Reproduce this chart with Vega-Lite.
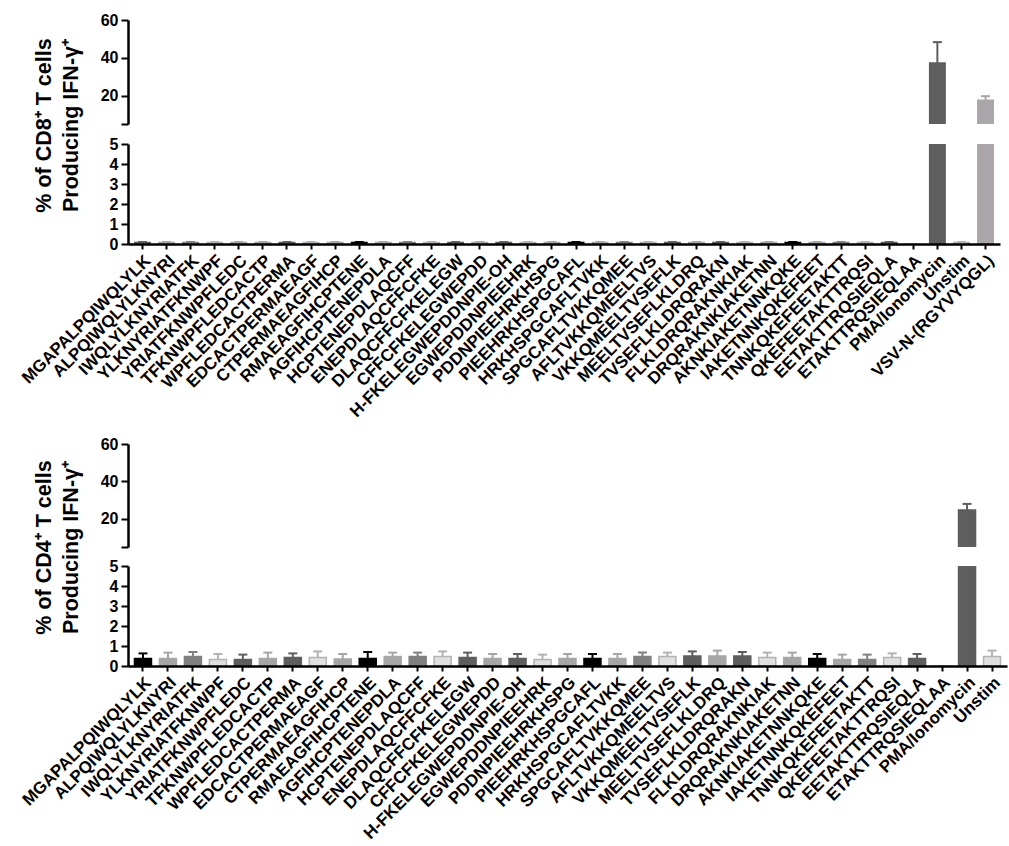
{
  "$schema": "https://vega.github.io/schema/vega-lite/v6.json",
  "background": "white",
  "padding": {"top": 12, "left": 18, "right": 4, "bottom": 4},
  "config": {
    "view": {"stroke": null},
    "font": "Liberation Sans",
    "axis": {
      "grid": false,
      "domainColor": "#000000",
      "domainWidth": 2.5,
      "tickColor": "#000000",
      "tickWidth": 2,
      "labelFont": "Liberation Sans",
      "labelFontWeight": "bold",
      "labelColor": "#000000",
      "labelFontSize": 16,
      "titleFont": "Liberation Sans",
      "titleFontWeight": "bold",
      "titleColor": "#000000"
    }
  },
  "datasets": {
    "cd8": [
      {"peptide": "MGAPALPQIWQLYLK", "value": 0.08, "upper": 0.1, "group": "d"},
      {"peptide": "ALPQIWQLYLKNYRI", "value": 0.08, "upper": 0.1, "group": "l"},
      {"peptide": "IWQLYLKNYRIATFK", "value": 0.08, "upper": 0.1, "group": "m"},
      {"peptide": "YLKNYRIATFKNWPF", "value": 0.08, "upper": 0.1, "group": "h"},
      {"peptide": "YRIATFKNWPFLEDC", "value": 0.08, "upper": 0.1, "group": "l"},
      {"peptide": "TFKNWPFLEDCACTP", "value": 0.08, "upper": 0.1, "group": "l"},
      {"peptide": "WPFLEDCACTPERMA", "value": 0.08, "upper": 0.1, "group": "d"},
      {"peptide": "EDCACTPERMAEAGF", "value": 0.08, "upper": 0.1, "group": "h"},
      {"peptide": "CTPERMAEAGFIHCP", "value": 0.08, "upper": 0.1, "group": "l"},
      {"peptide": "RMAEAGFIHCPTENE", "value": 0.08, "upper": 0.1, "group": "k"},
      {"peptide": "AGFIHCPTENEPDLA", "value": 0.08, "upper": 0.1, "group": "l"},
      {"peptide": "HCPTENEPDLAQCFF", "value": 0.08, "upper": 0.1, "group": "m"},
      {"peptide": "ENEPDLAQCFFCFKE", "value": 0.08, "upper": 0.1, "group": "h"},
      {"peptide": "DLAQCFFCFKELEGW", "value": 0.08, "upper": 0.1, "group": "d"},
      {"peptide": "CFFCFKELEGWEPDD", "value": 0.08, "upper": 0.1, "group": "l"},
      {"peptide": "H-FKELEGWEPDDNPIE-OH", "value": 0.08, "upper": 0.1, "group": "d"},
      {"peptide": "EGWEPDDNPIEEHRK", "value": 0.08, "upper": 0.1, "group": "h"},
      {"peptide": "PDDNPIEEHRKHSPG", "value": 0.08, "upper": 0.1, "group": "l"},
      {"peptide": "PIEEHRKHSPGCAFL", "value": 0.08, "upper": 0.1, "group": "k"},
      {"peptide": "HRKHSPGCAFLTVKK", "value": 0.08, "upper": 0.1, "group": "l"},
      {"peptide": "SPGCAFLTVKKQMEE", "value": 0.08, "upper": 0.1, "group": "m"},
      {"peptide": "AFLTVKKQMEELTVS", "value": 0.08, "upper": 0.1, "group": "h"},
      {"peptide": "VKKQMEELTVSEFLK", "value": 0.08, "upper": 0.1, "group": "d"},
      {"peptide": "MEELTVSEFLKLDRQ", "value": 0.08, "upper": 0.1, "group": "l"},
      {"peptide": "TVSEFLKLDRQRAKN", "value": 0.08, "upper": 0.1, "group": "d"},
      {"peptide": "FLKLDRQRAKNKIAK", "value": 0.08, "upper": 0.1, "group": "h"},
      {"peptide": "DRQRAKNKIAKETNN", "value": 0.08, "upper": 0.1, "group": "l"},
      {"peptide": "AKNKIAKETNNKQKE", "value": 0.08, "upper": 0.1, "group": "k"},
      {"peptide": "IAKETNNKQKEFEET", "value": 0.08, "upper": 0.1, "group": "l"},
      {"peptide": "TNNKQKEFEETAKTT", "value": 0.08, "upper": 0.1, "group": "m"},
      {"peptide": "QKEFEETAKTTRQSI", "value": 0.08, "upper": 0.1, "group": "h"},
      {"peptide": "EETAKTTRQSIEQLA", "value": 0.08, "upper": 0.1, "group": "d"},
      {"peptide": "ETAKTTRQSIEQLAA", "value": 0, "upper": 0, "group": "h"},
      {"peptide": "PMA/Ionomycin", "value": 37.2, "upper": 48.3, "group": "d"},
      {"peptide": "Unstim", "value": 0.08, "upper": 0.1, "group": "h"},
      {"peptide": "VSV-N-(RGYVYQGL)", "value": 17.6, "upper": 19.7, "group": "v"}
    ],
    "cd4": [
      {"peptide": "MGAPALPQIWQLYLK", "value": 0.38, "upper": 0.63, "group": "k"},
      {"peptide": "ALPQIWQLYLKNYRI", "value": 0.38, "upper": 0.67, "group": "l"},
      {"peptide": "IWQLYLKNYRIATFK", "value": 0.47, "upper": 0.7, "group": "m"},
      {"peptide": "YLKNYRIATFKNWPF", "value": 0.33, "upper": 0.6, "group": "h"},
      {"peptide": "YRIATFKNWPFLEDC", "value": 0.33, "upper": 0.57, "group": "d"},
      {"peptide": "TFKNWPFLEDCACTP", "value": 0.38, "upper": 0.67, "group": "l"},
      {"peptide": "WPFLEDCACTPERMA", "value": 0.42, "upper": 0.63, "group": "d"},
      {"peptide": "EDCACTPERMAEAGF", "value": 0.42, "upper": 0.73, "group": "h"},
      {"peptide": "CTPERMAEAGFIHCP", "value": 0.35, "upper": 0.6, "group": "l"},
      {"peptide": "RMAEAGFIHCPTENE", "value": 0.38, "upper": 0.7, "group": "k"},
      {"peptide": "AGFIHCPTENEPDLA", "value": 0.47, "upper": 0.67, "group": "l"},
      {"peptide": "HCPTENEPDLAQCFF", "value": 0.47, "upper": 0.67, "group": "m"},
      {"peptide": "ENEPDLAQCFFCFKE", "value": 0.47, "upper": 0.73, "group": "h"},
      {"peptide": "DLAQCFFCFKELEGW", "value": 0.42, "upper": 0.67, "group": "d"},
      {"peptide": "CFFCFKELEGWEPDD", "value": 0.38, "upper": 0.6, "group": "l"},
      {"peptide": "H-FKELEGWEPDDNPIE-OH", "value": 0.38, "upper": 0.6, "group": "d"},
      {"peptide": "EGWEPDDNPIEEHRK", "value": 0.33, "upper": 0.57, "group": "h"},
      {"peptide": "PDDNPIEEHRKHSPG", "value": 0.38, "upper": 0.6, "group": "l"},
      {"peptide": "PIEEHRKHSPGCAFL", "value": 0.38, "upper": 0.6, "group": "k"},
      {"peptide": "HRKHSPGCAFLTVKK", "value": 0.38, "upper": 0.6, "group": "l"},
      {"peptide": "SPGCAFLTVKKQMEE", "value": 0.47, "upper": 0.67, "group": "m"},
      {"peptide": "AFLTVKKQMEELTVS", "value": 0.47, "upper": 0.67, "group": "h"},
      {"peptide": "VKKQMEELTVSEFLK", "value": 0.5, "upper": 0.73, "group": "d"},
      {"peptide": "MEELTVSEFLKLDRQ", "value": 0.5, "upper": 0.77, "group": "l"},
      {"peptide": "TVSEFLKLDRQRAKN", "value": 0.5, "upper": 0.7, "group": "d"},
      {"peptide": "FLKLDRQRAKNKIAK", "value": 0.43, "upper": 0.67, "group": "h"},
      {"peptide": "DRQRAKNKIAKETNN", "value": 0.43, "upper": 0.67, "group": "l"},
      {"peptide": "AKNKIAKETNNKQKE", "value": 0.38, "upper": 0.6, "group": "k"},
      {"peptide": "IAKETNNKQKEFEET", "value": 0.33, "upper": 0.57, "group": "l"},
      {"peptide": "TNNKQKEFEETAKTT", "value": 0.33, "upper": 0.57, "group": "m"},
      {"peptide": "QKEFEETAKTTRQSI", "value": 0.43, "upper": 0.63, "group": "h"},
      {"peptide": "EETAKTTRQSIEQLA", "value": 0.38, "upper": 0.6, "group": "d"},
      {"peptide": "ETAKTTRQSIEQLAA", "value": 0, "upper": 0, "group": "h"},
      {"peptide": "PMA/Ionomycin", "value": 24.8, "upper": 28, "group": "d"},
      {"peptide": "Unstim", "value": 0.47, "upper": 0.77, "group": "h"}
    ]
  },
  "vconcat": [
    {
      "data": {"name": "cd8"},
      "bounds": "flush",
      "spacing": 20,
      "resolve": {"scale": {"x": "independent", "y": "independent"}},
      "vconcat": [
        {
          "width": 872,
          "height": 104,
          "resolve": {"axis": {"y": "independent"}},
          "encoding": {
            "x": {"field": "peptide", "type": "nominal", "sort": null, "scale": {"paddingInner": 0.36, "paddingOuter": 0.28}, "axis": null}
          },
          "layer": [
            {
              "mark": {"type": "bar", "clip": true, "strokeWidth": 1.5},
              "encoding": {
                "y": {"field": "value", "type": "quantitative", "scale": {"domain": [5, 60], "nice": false, "zero": false}, "axis": {"values": [5, 20, 40, 60], "labelOverlap": false, "labelExpr": "datum.value == 5 ? '' : datum.label", "title": null, "tickSize": 7, "labelPadding": 3}},
                "fill": {"field": "group", "type": "nominal", "legend": null, "scale": {"domain": ["k", "l", "m", "h", "d", "v"], "range": ["#000000", "#a6a6a6", "#808080", "#e0e0e0", "#5e5e5e", "#aaa6aa"]}},
                "stroke": {"field": "group", "type": "nominal", "legend": null, "scale": {"domain": ["k", "l", "m", "h", "d", "v"], "range": ["#000000", "#a6a6a6", "#808080", "#b2b2b2", "#5e5e5e", "#aaa6aa"]}}
              }
            },
            {
              "transform": [{"filter": "datum.upper > 0"}],
              "mark": {"type": "rule", "clip": true, "strokeWidth": 2},
              "encoding": {
                "y": {"field": "value", "type": "quantitative", "axis": null},
                "y2": {"field": "upper"},
                "color": {"field": "group", "type": "nominal", "legend": null, "scale": {"domain": ["k", "l", "m", "h", "d", "v"], "range": ["#000000", "#a6a6a6", "#808080", "#b2b2b2", "#5e5e5e", "#aaa6aa"]}}
              }
            },
            {
              "transform": [{"filter": "datum.upper > 0"}],
              "mark": {"type": "tick", "clip": true, "thickness": 2, "size": 9, "opacity": 1},
              "encoding": {
                "y": {"field": "upper", "type": "quantitative", "axis": null},
                "color": {"field": "group", "type": "nominal", "legend": null, "scale": {"domain": ["k", "l", "m", "h", "d", "v"], "range": ["#000000", "#a6a6a6", "#808080", "#b2b2b2", "#5e5e5e", "#aaa6aa"]}}
              }
            }
          ]
        },
        {
          "width": 872,
          "height": 100,
          "resolve": {"axis": {"y": "independent"}},
          "encoding": {
            "x": {"field": "peptide", "type": "nominal", "sort": null, "scale": {"paddingInner": 0.36, "paddingOuter": 0.28}, "axis": {"title": null, "labelAngle": -45, "labelLimit": 500, "labelOverlap": false, "labelFontSize": 17, "tickSize": 5, "labelPadding": 3, "zindex": 1}}
          },
          "layer": [
            {
              "mark": {"type": "bar", "clip": true, "strokeWidth": 1.5},
              "encoding": {
                "y": {"field": "value", "type": "quantitative", "scale": {"domain": [0, 5], "nice": false}, "axis": {"values": [0, 1, 2, 3, 4, 5], "labelOverlap": false, "tickSize": 7, "labelPadding": 3, "title": ["% of CD8⁺ T cells", "Producing IFN-γ⁺"], "titleFontSize": 21.5, "titleLineHeight": 27, "titleY": -19, "titlePadding": 27}},
                "fill": {"field": "group", "type": "nominal", "legend": null, "scale": {"domain": ["k", "l", "m", "h", "d", "v"], "range": ["#000000", "#a6a6a6", "#808080", "#e0e0e0", "#5e5e5e", "#aaa6aa"]}},
                "stroke": {"field": "group", "type": "nominal", "legend": null, "scale": {"domain": ["k", "l", "m", "h", "d", "v"], "range": ["#000000", "#a6a6a6", "#808080", "#b2b2b2", "#5e5e5e", "#aaa6aa"]}}
              }
            },
            {
              "transform": [{"filter": "datum.upper > 0"}],
              "mark": {"type": "rule", "clip": true, "strokeWidth": 2},
              "encoding": {
                "y": {"field": "value", "type": "quantitative", "axis": null},
                "y2": {"field": "upper"},
                "color": {"field": "group", "type": "nominal", "legend": null, "scale": {"domain": ["k", "l", "m", "h", "d", "v"], "range": ["#000000", "#a6a6a6", "#808080", "#b2b2b2", "#5e5e5e", "#aaa6aa"]}}
              }
            },
            {
              "transform": [{"filter": "datum.upper > 0"}],
              "mark": {"type": "tick", "clip": true, "thickness": 2, "size": 9, "opacity": 1},
              "encoding": {
                "y": {"field": "upper", "type": "quantitative", "axis": null},
                "color": {"field": "group", "type": "nominal", "legend": null, "scale": {"domain": ["k", "l", "m", "h", "d", "v"], "range": ["#000000", "#a6a6a6", "#808080", "#b2b2b2", "#5e5e5e", "#aaa6aa"]}}
              }
            }
          ]
        }
      ]
    },
    {
      "data": {"name": "cd4"},
      "bounds": "flush",
      "spacing": 19,
      "resolve": {"scale": {"x": "independent", "y": "independent"}},
      "vconcat": [
        {
          "width": 879,
          "height": 103,
          "resolve": {"axis": {"y": "independent"}},
          "encoding": {
            "x": {"field": "peptide", "type": "nominal", "sort": null, "scale": {"paddingInner": 0.32, "paddingOuter": 0.26}, "axis": null}
          },
          "layer": [
            {
              "mark": {"type": "bar", "clip": true, "strokeWidth": 1.5},
              "encoding": {
                "y": {"field": "value", "type": "quantitative", "scale": {"domain": [5, 60], "nice": false, "zero": false}, "axis": {"values": [5, 20, 40, 60], "labelOverlap": false, "labelExpr": "datum.value == 5 ? '' : datum.label", "title": null, "tickSize": 7, "labelPadding": 3}},
                "fill": {"field": "group", "type": "nominal", "legend": null, "scale": {"domain": ["k", "l", "m", "h", "d", "v"], "range": ["#000000", "#a6a6a6", "#808080", "#e0e0e0", "#5e5e5e", "#aaa6aa"]}},
                "stroke": {"field": "group", "type": "nominal", "legend": null, "scale": {"domain": ["k", "l", "m", "h", "d", "v"], "range": ["#000000", "#a6a6a6", "#808080", "#b2b2b2", "#5e5e5e", "#aaa6aa"]}}
              }
            },
            {
              "transform": [{"filter": "datum.upper > 0"}],
              "mark": {"type": "rule", "clip": true, "strokeWidth": 2},
              "encoding": {
                "y": {"field": "value", "type": "quantitative", "axis": null},
                "y2": {"field": "upper"},
                "color": {"field": "group", "type": "nominal", "legend": null, "scale": {"domain": ["k", "l", "m", "h", "d", "v"], "range": ["#000000", "#a6a6a6", "#808080", "#b2b2b2", "#5e5e5e", "#aaa6aa"]}}
              }
            },
            {
              "transform": [{"filter": "datum.upper > 0"}],
              "mark": {"type": "tick", "clip": true, "thickness": 2, "size": 9, "opacity": 1},
              "encoding": {
                "y": {"field": "upper", "type": "quantitative", "axis": null},
                "color": {"field": "group", "type": "nominal", "legend": null, "scale": {"domain": ["k", "l", "m", "h", "d", "v"], "range": ["#000000", "#a6a6a6", "#808080", "#b2b2b2", "#5e5e5e", "#aaa6aa"]}}
              }
            }
          ]
        },
        {
          "width": 879,
          "height": 100,
          "resolve": {"axis": {"y": "independent"}},
          "encoding": {
            "x": {"field": "peptide", "type": "nominal", "sort": null, "scale": {"paddingInner": 0.32, "paddingOuter": 0.26}, "axis": {"title": null, "labelAngle": -45, "labelLimit": 500, "labelOverlap": false, "labelFontSize": 17, "tickSize": 5, "labelPadding": 3, "zindex": 1}}
          },
          "layer": [
            {
              "mark": {"type": "bar", "clip": true, "strokeWidth": 1.5},
              "encoding": {
                "y": {"field": "value", "type": "quantitative", "scale": {"domain": [0, 5], "nice": false}, "axis": {"values": [0, 1, 2, 3, 4, 5], "labelOverlap": false, "tickSize": 7, "labelPadding": 3, "title": ["% of CD4⁺ T cells", "Producing IFN-γ⁺"], "titleFontSize": 21.5, "titleLineHeight": 27, "titleY": -19, "titlePadding": 27}},
                "fill": {"field": "group", "type": "nominal", "legend": null, "scale": {"domain": ["k", "l", "m", "h", "d", "v"], "range": ["#000000", "#a6a6a6", "#808080", "#e0e0e0", "#5e5e5e", "#aaa6aa"]}},
                "stroke": {"field": "group", "type": "nominal", "legend": null, "scale": {"domain": ["k", "l", "m", "h", "d", "v"], "range": ["#000000", "#a6a6a6", "#808080", "#b2b2b2", "#5e5e5e", "#aaa6aa"]}}
              }
            },
            {
              "transform": [{"filter": "datum.upper > 0"}],
              "mark": {"type": "rule", "clip": true, "strokeWidth": 2},
              "encoding": {
                "y": {"field": "value", "type": "quantitative", "axis": null},
                "y2": {"field": "upper"},
                "color": {"field": "group", "type": "nominal", "legend": null, "scale": {"domain": ["k", "l", "m", "h", "d", "v"], "range": ["#000000", "#a6a6a6", "#808080", "#b2b2b2", "#5e5e5e", "#aaa6aa"]}}
              }
            },
            {
              "transform": [{"filter": "datum.upper > 0"}],
              "mark": {"type": "tick", "clip": true, "thickness": 2, "size": 9, "opacity": 1},
              "encoding": {
                "y": {"field": "upper", "type": "quantitative", "axis": null},
                "color": {"field": "group", "type": "nominal", "legend": null, "scale": {"domain": ["k", "l", "m", "h", "d", "v"], "range": ["#000000", "#a6a6a6", "#808080", "#b2b2b2", "#5e5e5e", "#aaa6aa"]}}
              }
            }
          ]
        }
      ]
    }
  ],
  "bounds": "flush",
  "spacing": 424,
  "resolve": {"scale": {"x": "independent", "y": "independent", "fill": "independent", "stroke": "independent", "color": "independent"}}
}
